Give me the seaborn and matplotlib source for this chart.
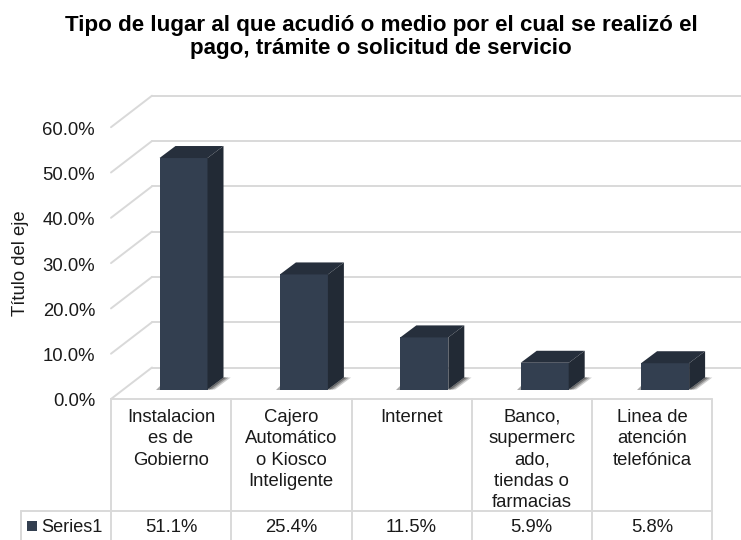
import matplotlib
matplotlib.use('Agg')
import matplotlib.pyplot as plt
import seaborn as sns
import pandas as pd
from matplotlib.patches import Polygon
from matplotlib.transforms import ScaledTranslation

categories = ['Instalacion\nes de\nGobierno', 'Cajero\nAutomático\no Kiosco\nInteligente', 'Internet',
              'Banco,\nsupermerc\nado,\ntiendas o\nfarmacias', 'Linea de\natención\ntelefónica']
values = [51.1, 25.4, 11.5, 5.9, 5.8]
value_labels = ['51.1%', '25.4%', '11.5%', '5.9%', '5.8%']
y_ticks = [0, 10, 20, 30, 40, 50, 60]
series_name = 'Series1'
title = 'Tipo de lugar al que acudió o medio por el cual se realizó el\npago, trámite o solicitud de servicio'
y_title = 'Título del eje'

FRONT = '#333f50'
TOP = '#262f3c'
SIDE = '#222a35'
LINE = '#d9d9d9'
TEXT = '#1a1a1a'
FS = 13.3

sns.set_theme(style='white')
plt.rcParams['font.family'] = ['Liberation Sans', 'DejaVu Sans']


# picture pixels to data units
def px_x(x):
    return (x - 183.5) / 120.4


def px_y(y):
    return (389.5 - y) / 4.53


fig = plt.figure(figsize=(7.41, 5.4), dpi=100)
ax = fig.add_axes([111 / 741, (540 - 389.5) / 540, 601 / 741, (389.5 - 96) / 540])

df = pd.DataFrame({'cat': categories, 'val': values})
sns.barplot(data=df, x='cat', y='val', color=FRONT, saturation=1, width=48 / 120.4, ax=ax, zorder=3, linewidth=0)
ax.set_xlim(px_x(111), px_x(712))
ax.set_ylim(0, px_y(96))
sns.despine(ax=ax, left=True, bottom=True)
ax.set_xticks([])
ax.set_xlabel('')

# y axis labels sit on the front edge of the floor
ax.set_yticks(y_ticks)
ax.set_yticklabels([f'{v:.1f}%' for v in y_ticks], fontsize=FS, color=TEXT)
ax.tick_params(axis='y', length=0, pad=11.5)
shift = ScaledTranslation(0, -10.5 / 100, fig.dpi_scale_trans)
for lab in ax.get_yticklabels():
    lab.set_transform(lab.get_transform() + shift)
ax.set_ylabel(y_title, fontsize=FS, color=TEXT)
ax.yaxis.set_label_coords((29 - 111) / 601, 0.43)

# back wall grid and left wall
wall_dy = 22 / 4.53
for v in y_ticks:
    ax.plot([px_x(152), px_x(741)], [v + wall_dy, v + wall_dy], color=LINE, lw=1.4, zorder=1, clip_on=False)
    ax.plot([px_x(111), px_x(152)], [v - 9.5 / 4.53, v + wall_dy], color=LINE, lw=1.4, zorder=1, clip_on=False)

# 3d faces and floor shadow from the bars
dx, dy = 16 / 120.4, 12 / 4.53
for bar in ax.patches[:len(values)]:
    x0, w, h = bar.get_x(), bar.get_width(), bar.get_height()
    x1 = x0 + w
    ax.add_patch(Polygon([(x0, h), (x1, h), (x1 + dx, h + dy), (x0 + dx, h + dy)], fc=TOP, ec='none', zorder=3))
    ax.add_patch(Polygon([(x1, 0), (x1 + dx, dy), (x1 + dx, h + dy), (x1, h)], fc=SIDE, ec='none', zorder=3))
    # layered so the shadow fades away from the bar
    for spread, alpha in [(0.45, 0.25), (0.3, 0.35), (0.15, 0.5)]:
        ax.add_patch(Polygon([(x1, 0), (x1 + dx, dy), (x1 + dx + spread * dx, dy), (x1 + spread * dx, 0)],
                             fc='#3a3a3a', alpha=alpha, ec='none', zorder=2, clip_on=False))
    ax.add_patch(Polygon([(x0 - 0.25 * dx, -0.05), (x0, -0.05), (x0, 0.8)], fc='#555555', alpha=0.5, ec='none',
                         zorder=2, clip_on=False))

# data table below the plot
cell_x = [111, 231, 351.5, 471.5, 592, 712]
top_y, mid_y, bot_y = 399, 511, 540
ax.plot([px_x(111), px_x(712)], [px_y(top_y)] * 2, color=LINE, lw=1.4, clip_on=False)
ax.plot([px_x(21), px_x(712)], [px_y(mid_y)] * 2, color=LINE, lw=1.4, clip_on=False)
ax.plot([px_x(21.5)] * 2, [px_y(mid_y), px_y(bot_y)], color=LINE, lw=1.4, clip_on=False)
for x in cell_x:
    ax.plot([px_x(x)] * 2, [px_y(top_y), px_y(bot_y)], color=LINE, lw=1.4, clip_on=False)
for i, (cat, lab) in enumerate(zip(categories, value_labels)):
    center = px_x((cell_x[i] + cell_x[i + 1]) / 2)
    ax.text(center, px_y(409), cat, ha='center', va='top', fontsize=FS, color=TEXT, linespacing=1.33, clip_on=False)
    ax.text(center, px_y(528), lab, ha='center', va='center', fontsize=FS, color=TEXT, clip_on=False)
ax.text(px_x(41), px_y(528), series_name, ha='left', va='center', fontsize=FS * 0.98, color=TEXT, clip_on=False)
ax.add_patch(Polygon([(px_x(27), px_y(521)), (px_x(37), px_y(521)), (px_x(37), px_y(531)), (px_x(27), px_y(531))],
                     fc=FRONT, ec='none', clip_on=False))

fig.text(381 / 741, 1 - 37 / 540, title, ha='center', va='center', fontsize=16.1, fontweight='bold',
         color='black', linespacing=1.07)

fig.savefig('out.png', dpi=100)
